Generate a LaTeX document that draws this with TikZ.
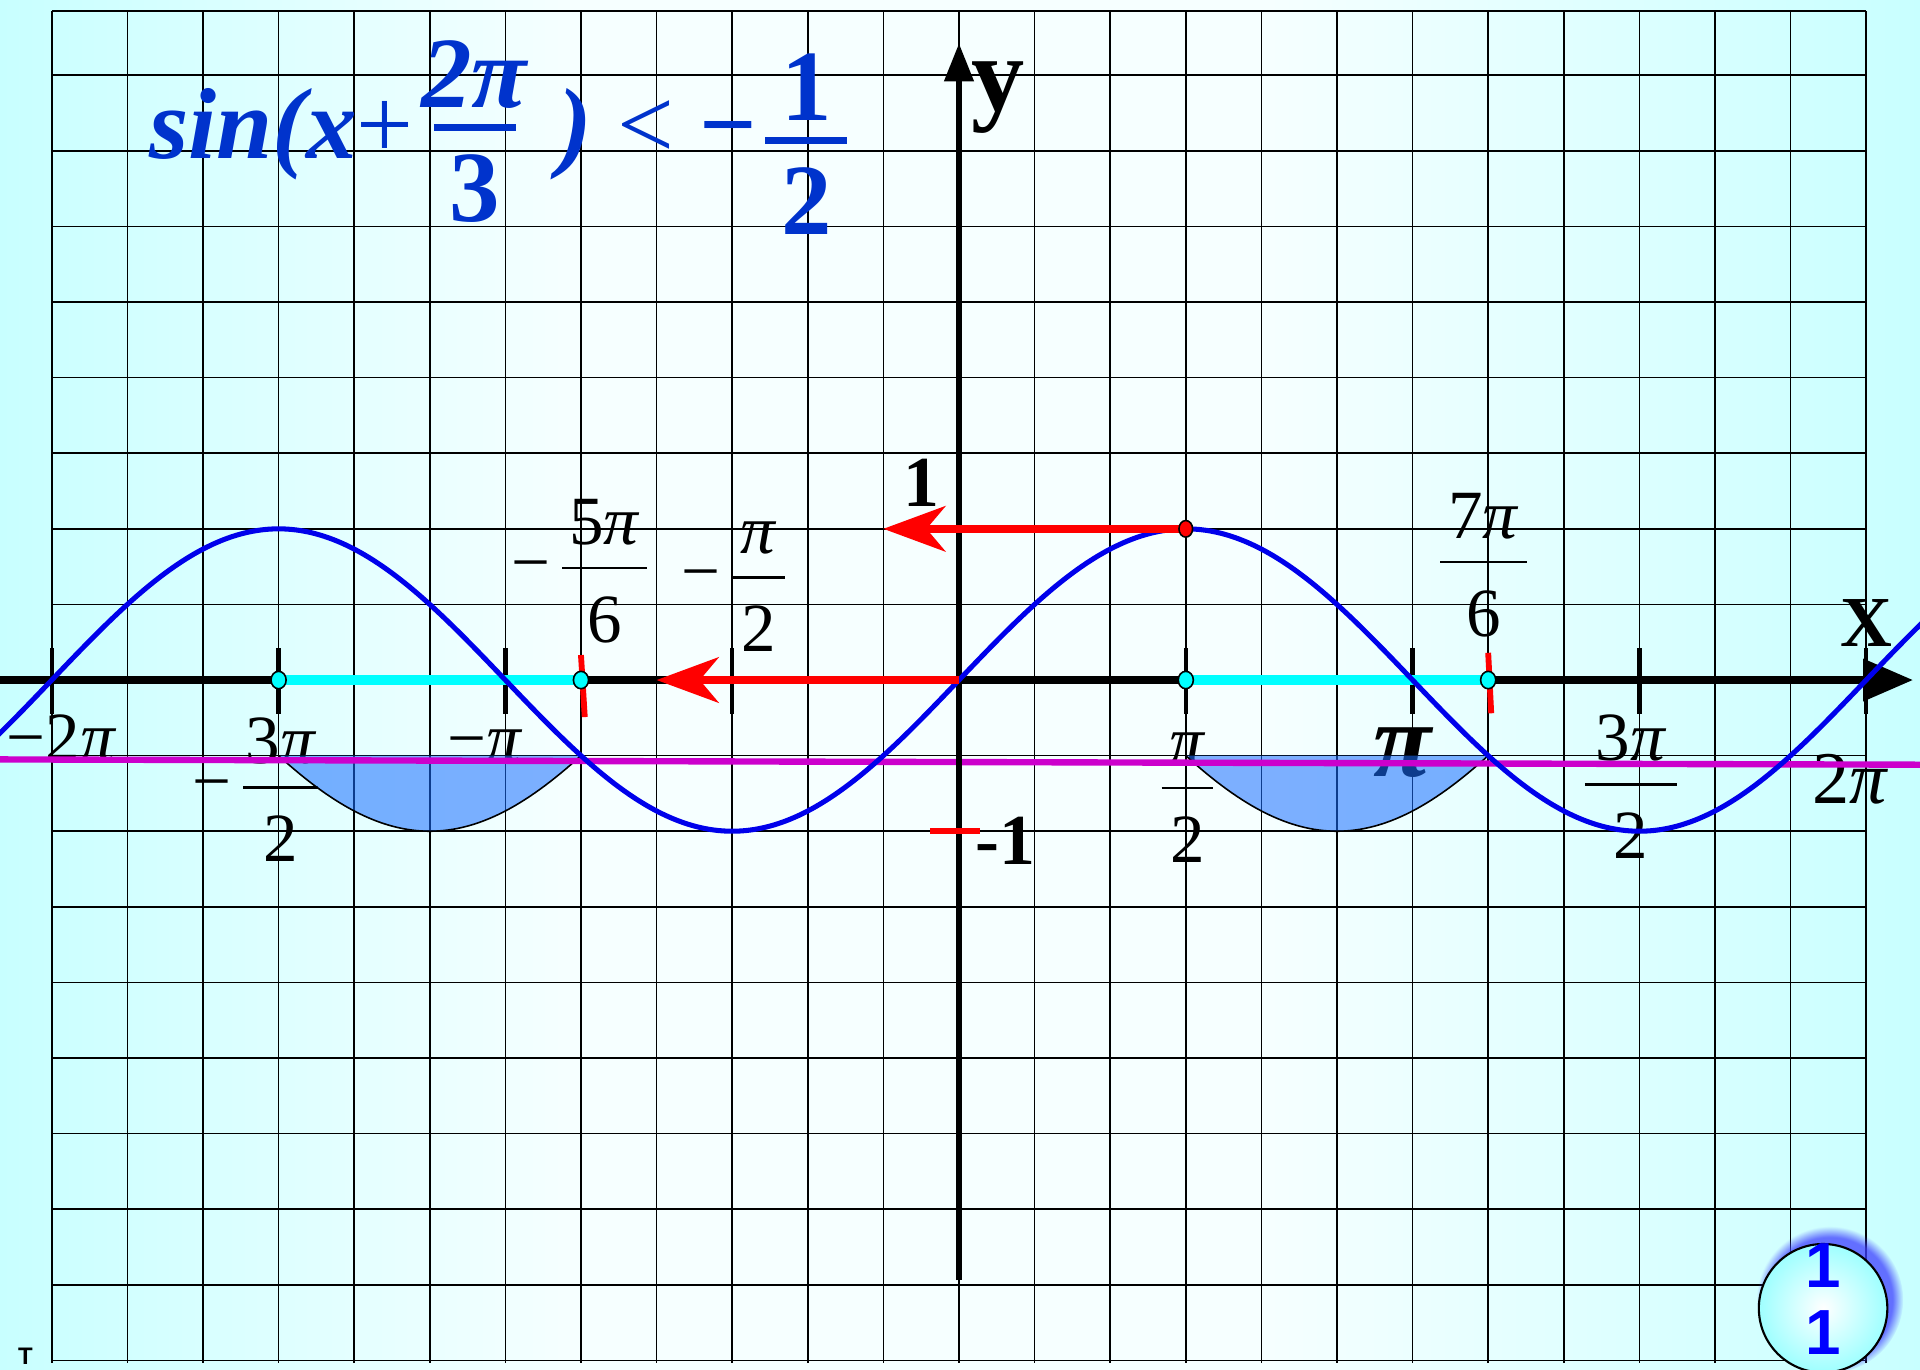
\documentclass[tikz,border=0pt]{standalone}
\usepackage{fontspec}
\setmainfont{Liberation Serif}
\setsansfont{Liberation Sans}
\usepackage{tikz}
\usetikzlibrary{
  arrows.meta, positioning, calc, shadows, shapes.geometric
}
\definecolor{bgside}{RGB}{200,255,255}
\definecolor{bgmid}{RGB}{246,255,255}
\definecolor{curveblue}{RGB}{0,0,235}
\definecolor{titleblue}{RGB}{0,51,204}
\definecolor{solfill}{RGB}{25,111,255}
\definecolor{solcyan}{RGB}{0,255,255}
\definecolor{halfmagenta}{RGB}{204,0,204}
\definecolor{shiftred}{RGB}{255,0,0}
\definecolor{badgeblue}{RGB}{0,0,255}
% paper background: cyan at the sides, almost white in the middle
\pgfdeclarehorizontalshading{paperbg}{100bp}{%
  color(0bp)=(bgside); color(25bp)=(bgside); color(40bp)=(bgmid);
  color(58bp)=(bgmid); color(75bp)=(bgside); color(100bp)=(bgside)}
\tikzset{
  % Grid and axes
  gridline/.style={draw=black, line width=0.6pt},
  xaxis/.style={draw=black, line width=2.8pt, -{Triangle[length=0.66cm, width=0.54cm]}},
  yaxis/.style={draw=black, line width=1.9pt, -{Triangle[length=0.5cm, width=0.38cm]}},
  tickmark/.style={draw=black, line width=1.6pt},
  % Graph of the sine and the level line
  sinecurve/.style={draw=curveblue, line width=1.9pt},
  halfline/.style={draw=halfmagenta, line width=2.4pt},
  solarea/.style={fill=solfill, fill opacity=0.55},
  soledge/.style={draw=black, line width=0.6pt},
  % Solution on the axis
  solseg/.style={draw=solcyan, line width=3.8pt},
  soldot/.style={ellipse, minimum width=0.2cm, minimum height=0.23cm, inner sep=0pt,
    fill=solcyan, draw=black, line width=0.6pt},
  peakdot/.style={ellipse, minimum width=0.18cm, minimum height=0.22cm, inner sep=0pt,
    fill=shiftred, draw=black, line width=0.6pt},
  % Shift arrows
  redarrow/.style={draw=shiftred, line width=3pt,
    -{Stealth[length=0.82cm, width=0.6cm, inset=0.25cm]}},
  redtick/.style={draw=shiftred, line width=#1},
  redtick/.default={2.2pt},
  % Labels
  ticklabel/.style={font=\fontsize{26}{30}\selectfont, inner sep=0pt,
    text height=0.62cm, text depth=0pt},
  fracbar/.style={draw=black, line width=1pt},
  axislabel/.style={font=\fontsize{27}{32}\selectfont\bfseries, inner sep=0pt},
  bigpi/.style={font=\fontsize{40}{44}\selectfont\bfseries\itshape, inner sep=0pt},
  % Title
  titletext/.style={font=\fontsize{38}{44}\selectfont\bfseries, text=titleblue, inner sep=0pt},
  titlenum/.style={titletext, text height=0.9cm, text depth=0pt},
  titlebar/.style={draw=titleblue, line width=2.5pt},
  % Corner badge
  badge/.style={circle, minimum size=1.7cm, inner sep=0pt, draw=black, line width=0.8pt,
    inner color=white, outer color=solcyan!38,
    circular drop shadow={shadow xshift=0.08cm, shadow yshift=0.1cm,
      shadow scale=1.14, fill=badgeblue!75, opacity=0.75}},
  badgetext/.style={font=\sffamily\bfseries\fontsize{24}{25}\selectfont,
    text=badgeblue, align=center, inner sep=0pt},
}
% fraction label under/over the axis: [sign]{name}{bar centre}{bar width}{numerator}{denominator}
\newcommand{\piFrac}[6][]{%
  \coordinate (#2) at (#3);
  \draw[fracbar] ($(#2)+(-#4/2,0)$) -- ($(#2)+(#4/2,0)$);
  \node[ticklabel] (#2-num) at ($(#2)+(0,0.62)$) {#5};
  \node[ticklabel] (#2-den) at ($(#2)+(0,-0.67)$) {#6};
  \if\relax\detokenize{#1}\relax\else
    \node[ticklabel, anchor=base east] (#2-sgn) at ($(#2)+(-#4/2-0.15,-0.23)$) {#1};
  \fi
}
% fraction in the title: {name}{bar centre}{numerator}{denominator}
\newcommand{\titleFrac}[4]{%
  \coordinate (#1) at (#2);
  \draw[titlebar] ($(#1)+(-0.545,0)$) -- ($(#1)+(0.545,0)$);
  \node[titlenum] (#1-num) at ($(#1)+(0,0.71)$) {#3};
  \node[titlenum] (#1-den) at ($(#1)+(0,-0.80)$) {#4};
}

\begin{document}
\begin{tikzpicture}

  \useasboundingbox (-12.685,-9.114) rectangle (12.712,8.995);
  \shade[shading=paperbg] (-12.685,-9.114) rectangle (12.712,8.995);

  % Grid
  \foreach \gx in {-12,...,12}
    \draw[gridline] (\gx,-9.03) -- (\gx,8.85);
  \foreach \gy in {-9,...,8}
    \draw[gridline] (-12,\gy) -- (12,\gy);
  \draw[gridline] (-12,8.85) -- (12,8.85);

  % Title
  \node[titletext, anchor=base west] (ineqleft) at (-10.72,6.9)
    {\textit{sin(x}{\mdseries+}};
  \titleFrac{argfrac}{-6.40,7.31}{\textit{2π}}{3}
  \node[titletext, anchor=base west] (ineqright) at (-5.30,6.9)
    {\textit{)} {\mdseries<} −};
  \titleFrac{rhsfrac}{-2.02,7.14}{1}{2}

  % Axis labels
  \node[ticklabel] (lblmtwopi) at (-11.87,-0.75) {−2\textit{π}};
  \piFrac[−]{lblmthreepi}{-8.97,-1.42}{0.99}{3\textit{π}}{2}
  \node[ticklabel] (lblmpi) at (-6.27,-0.77) {−\textit{π}};
  \piFrac[−]{lblmfivepi}{-4.69,1.48}{1.12}{5\textit{π}}{6}
  \piFrac[−]{lblmhalfpi}{-2.65,1.36}{0.70}{\textit{π}}{2}
  \piFrac{lblhalfpi}{3.02,-1.43}{0.68}{\textit{π}}{2}
  \node[bigpi] (lblpi) at (5.87,-0.96) {π};
  \piFrac{lblsevenpi}{6.94,1.56}{1.15}{7\textit{π}}{6}
  \piFrac{lblthreepi}{8.89,-1.38}{1.22}{3\textit{π}}{2}
  \node[ticklabel, font=\fontsize{28}{32}\selectfont] (lbltwopi) at (11.79,-1.32) {2\textit{π}};
  \node[axislabel] (lblone) at (-0.50,2.61) {1};
  \node[axislabel] (lblmone) at (0.61,-2.13) {-1};
  \node[axislabel] (lblx) at (12.0,0.76) {X};
  \node[axislabel, font=\fontsize{40}{44}\selectfont\bfseries] (lbly) at (0.52,7.71) {y};

  % Solution areas under y = -1/2
  \fill[solarea] plot[domain=-9:-5, samples=60] (\x,{2*sin(30*(\x+4))}) -- cycle;
  \draw[soledge] plot[domain=-9:-5, samples=60] (\x,{2*sin(30*(\x+4))});
  \fill[solarea] plot[domain=3:7, samples=60] (\x,{2*sin(30*(\x+4))}) -- cycle;
  \draw[soledge] plot[domain=3:7, samples=60] (\x,{2*sin(30*(\x+4))});

  % Level line
  \draw[halfline] (-12.7,-1.05) -- (12.72,-1.12);

  % Axes
  \draw[xaxis] (-12.7,0) -- (12.62,0);
  \draw[yaxis] (0,-7.94) -- (0,8.42);
  \foreach \tx in {-12,-9,-6,-3,3,6,9,12}
    \draw[tickmark] (\tx,0.42) -- (\tx,-0.45);

  % Solution intervals on the axis
  \coordinate (solA) at (-9,0);
  \coordinate (solB) at (-5,0);
  \coordinate (solC) at (3,0);
  \coordinate (solD) at (7,0);
  \draw[solseg] (solA) -- (solB);
  \draw[solseg] (solC) -- (solD);
  \draw[redtick] (-5,0.33) -- (-4.95,-0.49);
  \draw[redtick] (7,0.36) -- (7.04,-0.44);
  \draw[redtick=2.4pt] (-0.38,-2) -- (0.28,-2);

  % Sine curve
  \draw[sinecurve] plot[domain=-12.75:12.75, samples=241, smooth] (\x,{2*sin(30*\x)});

  % Shift arrows
  \coordinate (origin) at (0,0);
  \coordinate (shiftend) at (-4,0);
  \coordinate (peak) at (3,2);
  \coordinate (oneend) at (-1,2);
  \draw[redarrow] (origin) -- (shiftend);
  \draw[redarrow] (peak) -- (oneend);

  \node[soldot] (solAdot) at (solA) {};
  \node[soldot] (solBdot) at (solB) {};
  \node[soldot] (solCdot) at (solC) {};
  \node[soldot] (solDdot) at (solD) {};
  \node[peakdot] (peakmark) at (peak) {};

  % Corner badge
  \node[badge] (badge) at (11.43,-8.31) {};
  \node[badgetext] (badgenum) at ([yshift=0.12cm]badge.center) {1\\1};
  \node[font=\sffamily\bfseries\fontsize{9}{11}\selectfont, anchor=north, inner sep=0pt]
    (stray) at (-12.35,-8.83) {T};

\end{tikzpicture}
\end{document}
